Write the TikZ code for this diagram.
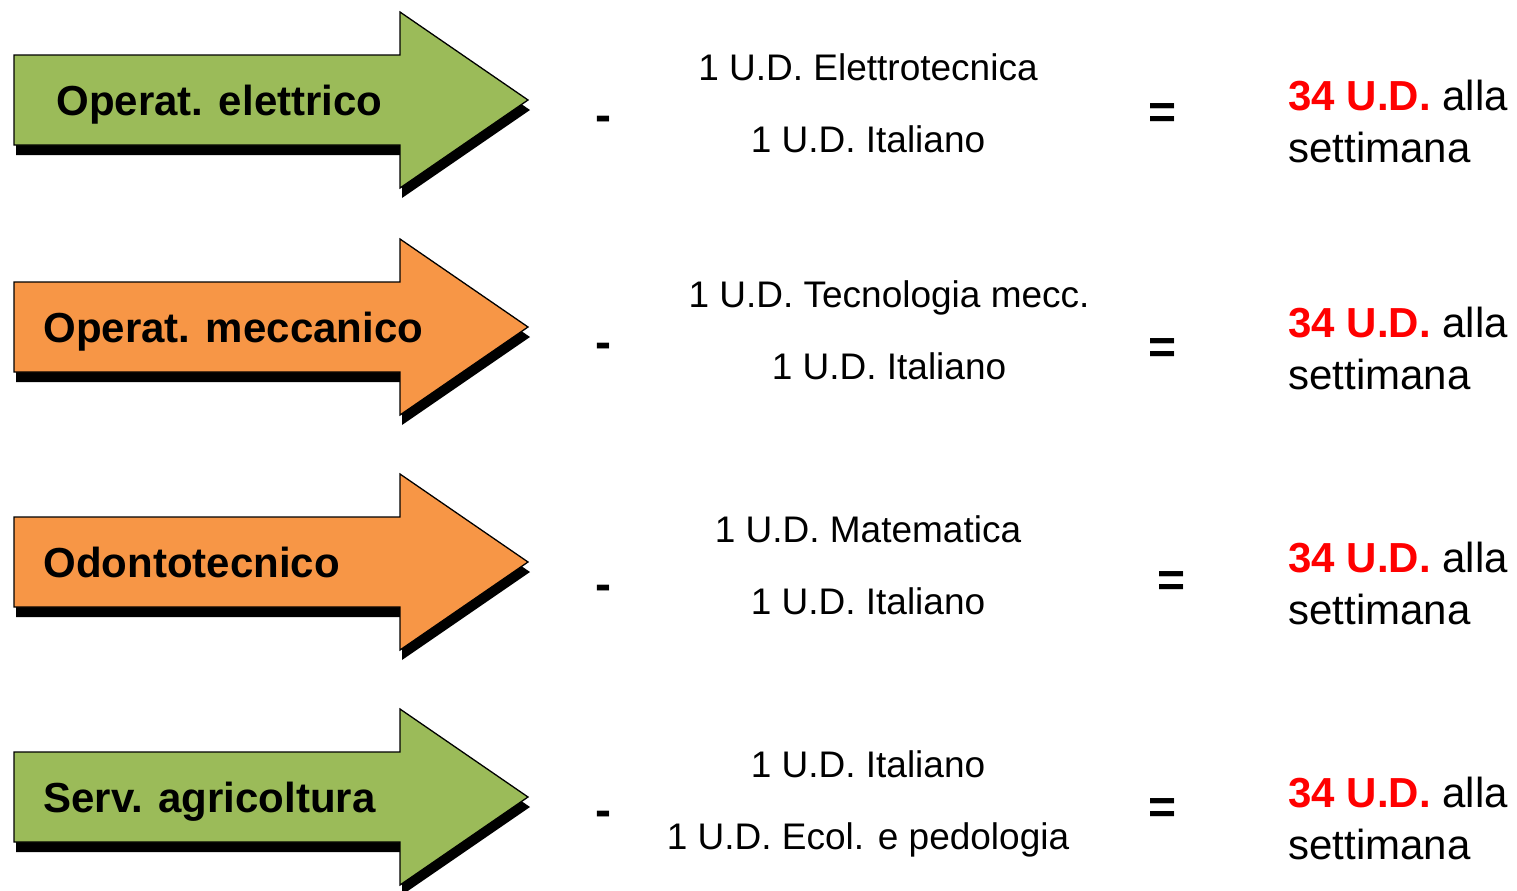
\documentclass[tikz,border=0pt]{standalone}
\usepackage{fontspec}
\setmainfont{Liberation Sans}
\usepackage{xcolor}
\definecolor{agrigreen}{HTML}{9BBB59}
\definecolor{mechorange}{HTML}{F79646}
\definecolor{udred}{HTML}{FF0000}

\begin{document}
\begin{tikzpicture}[x=0.5pt,y=-0.5pt,%
		   course/.style={font=\bfseries\fontsize{21}{25}\selectfont,anchor=base west,inner sep=0pt},
		   unit/.style={font=\fontsize{18.5}{22}\selectfont,anchor=base,inner sep=0pt},
		   sign/.style={font=\bfseries\fontsize{24}{28}\selectfont,anchor=base,inner sep=0pt},
		   total/.style={font=\fontsize{21}{26}\selectfont,anchor=base west,inner sep=0pt},
		   arrowshadow/.style={fill=black,shift={(2,10)}},
		   arrowbody/.style={draw=black,line width=0.65pt}]

	\useasboundingbox (0,0) rectangle (1517,890);

	    \foreach \course/\col/\lx/\ty/\unita/\unitb/\ux/\my/\ex/\ey [count=\r] in {%
	       Operat. elettrico/agrigreen/56/100/1 U.D. Elettrotecnica/1 U.D. Italiano/868/131/1163/128,%
	       Operat. meccanico/mechorange/43/327/1 U.D. Tecnologia mecc./1 U.D. Italiano/889/358/1163/363,%
	       Odontotecnico/mechorange/43/562/1 U.D. Matematica/1 U.D. Italiano/868/600/1172/596,%
	       Serv. agricoltura/agrigreen/43/797/1 U.D. Italiano/1 U.D. Ecol. e pedologia/868/826/1163/823%
	       } { \fill[arrowshadow] (14,\ty-45) -- (400,\ty-45) -- (400,\ty-88) -- (528,\ty)
		       -- (400,\ty+88) -- (400,\ty+45) -- (14,\ty+45) -- cycle;
		   \filldraw[arrowbody,fill=\col] (14,\ty-45) -- (400,\ty-45) -- (400,\ty-88) -- (528,\ty)
		       -- (400,\ty+88) -- (400,\ty+45) -- (14,\ty+45) -- cycle;
		   \node[course](c-\r) at (\lx,\ty+15) {\course};
		   \node[sign](minus-\r) at (603,\my) {-};
		   \node[unit](ua-\r) at (\ux,\ty-20) {\unita};
		   \node[unit](ub-\r) at (\ux,\ty+52) {\unitb};
		   \node[sign](eq-\r) at (\ex,\ey) {=};
		   \node[total](tot-\r) at (1288,\ty+10) {\textcolor{udred}{\bfseries 34 U.D.} alla};
		   \node[total](week-\r) at (1288,\ty+62) {settimana};
	       }

\end{tikzpicture}
\end{document}
